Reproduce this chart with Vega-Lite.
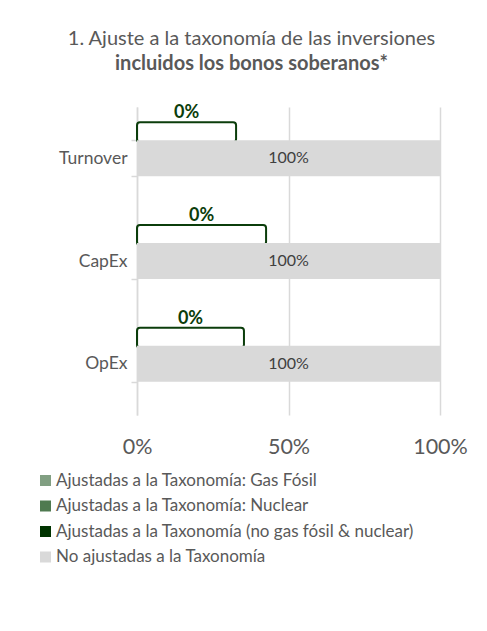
{
  "$schema": "https://vega.github.io/schema/vega-lite/v6.json",
  "width": 303,
  "height": 308,
  "autosize": {"type": "none"},
  "padding": {"left": 137, "top": 107, "right": 47, "bottom": 216},
  "background": "white",
  "config": {
    "view": {"stroke": null},
    "font": "Lato",
    "axisX": {
      "domain": false, "ticks": false, "grid": true, "gridColor": "#d9d9d9", "gridWidth": 1.5,
      "labelFontSize": 21.5, "labelColor": "#595959", "labelPadding": 21, "labelFlush": false, "labelOverlap": false,
      "labelFont": "Lato"
    },
    "axisY": {
      "domain": true, "domainColor": "#d9d9d9", "domainWidth": 1.5,
      "ticks": true, "tickBand": "extent", "tickColor": "#d9d9d9", "tickSize": 6, "tickWidth": 1.5,
      "grid": false, "labelFontSize": 17.5, "labelColor": "#595959", "labelPadding": 4, "labelFont": "Lato"
    }
  },
  "title": {
    "text": "1. Ajuste a la taxonomía de las inversiones",
    "subtitle": "incluidos los bonos soberanos*",
    "anchor": "middle", "dx": -37, "offset": 24,
    "font": "Lato", "fontSize": 20, "fontWeight": "normal", "color": "#595959",
    "subtitleFont": "Lato", "subtitleFontSize": 20, "subtitleFontWeight": "bold", "subtitleColor": "#595959",
    "subtitlePadding": 5
  },
  "data": {
    "values": [
      {"categoria": "Turnover", "serie": "Ajustadas a la Taxonomía: Gas Fósil", "valor": 0},
      {"categoria": "Turnover", "serie": "Ajustadas a la Taxonomía: Nuclear", "valor": 0},
      {"categoria": "Turnover", "serie": "Ajustadas a la Taxonomía (no gas fósil & nuclear)", "valor": 0, "etiqueta_ancho": 0.327},
      {"categoria": "Turnover", "serie": "No ajustadas a la Taxonomía", "valor": 1},
      {"categoria": "CapEx", "serie": "Ajustadas a la Taxonomía: Gas Fósil", "valor": 0},
      {"categoria": "CapEx", "serie": "Ajustadas a la Taxonomía: Nuclear", "valor": 0},
      {"categoria": "CapEx", "serie": "Ajustadas a la Taxonomía (no gas fósil & nuclear)", "valor": 0, "etiqueta_ancho": 0.426},
      {"categoria": "CapEx", "serie": "No ajustadas a la Taxonomía", "valor": 1},
      {"categoria": "OpEx", "serie": "Ajustadas a la Taxonomía: Gas Fósil", "valor": 0},
      {"categoria": "OpEx", "serie": "Ajustadas a la Taxonomía: Nuclear", "valor": 0},
      {"categoria": "OpEx", "serie": "Ajustadas a la Taxonomía (no gas fósil & nuclear)", "valor": 0, "etiqueta_ancho": 0.353},
      {"categoria": "OpEx", "serie": "No ajustadas a la Taxonomía", "valor": 1}
    ]
  },
  "encoding": {
    "y": {
      "field": "categoria", "type": "nominal", "sort": ["Turnover", "CapEx", "OpEx"], "title": null,
      "scale": {"paddingInner": 0.65, "paddingOuter": 0.325}
    }
  },
  "layer": [
    {
      "transform": [{"filter": "isValid(datum.etiqueta_ancho)"}],
      "mark": {"type": "bar", "height": 20, "yOffset": -26, "fill": "white", "fillOpacity": 0, "stroke": "#0b3d0b", "strokeWidth": 2, "cornerRadius": 3},
      "encoding": {
        "x": {"field": "valor", "type": "quantitative", "stack": null, "title": null},
        "x2": {"field": "etiqueta_ancho"}
      }
    },
    {
      "mark": {"type": "bar"},
      "encoding": {
        "x": {
          "field": "valor", "type": "quantitative", "stack": "zero", "title": null,
          "scale": {"domain": [0, 1], "nice": false},
          "axis": {"values": [0, 0.5, 1], "format": ".0%"}
        },
        "color": {
          "field": "serie", "type": "nominal",
          "scale": {
            "domain": ["Ajustadas a la Taxonomía: Gas Fósil", "Ajustadas a la Taxonomía: Nuclear", "Ajustadas a la Taxonomía (no gas fósil & nuclear)", "No ajustadas a la Taxonomía"],
            "range": ["#819f82", "#4f7a50", "#003300", "#d9d9d9"]
          },
          "legend": {
            "title": null, "orient": "none", "legendX": -100, "legendY": 365, "direction": "vertical",
            "symbolType": "square", "symbolSize": 121, "symbolStrokeWidth": 0, "symbolOpacity": 1,
            "labelFontSize": 17, "labelColor": "#595959", "labelFont": "Lato", "labelOffset": 2, "rowPadding": 7.5, "labelLimit": 500
          }
        }
      }
    },
    {
      "transform": [{"filter": "datum.serie == 'No ajustadas a la Taxonomía'"}, {"calculate": "datum.valor / 2", "as": "centro"}],
      "mark": {"type": "text", "fontSize": 16, "color": "#404040", "font": "Lato"},
      "encoding": {
        "x": {"field": "centro", "type": "quantitative", "title": null},
        "text": {"field": "valor", "type": "quantitative", "format": ".0%"}
      }
    },
    {
      "transform": [{"filter": "isValid(datum.etiqueta_ancho)"}, {"calculate": "datum.etiqueta_ancho / 2", "as": "centro"}],
      "mark": {"type": "text", "fontSize": 18, "fontWeight": "bold", "color": "#0b3d0b", "baseline": "alphabetic", "yOffset": -40, "font": "Lato"},
      "encoding": {
        "x": {"field": "centro", "type": "quantitative", "title": null},
        "text": {"field": "valor", "type": "quantitative", "format": ".0%"}
      }
    }
  ]
}
